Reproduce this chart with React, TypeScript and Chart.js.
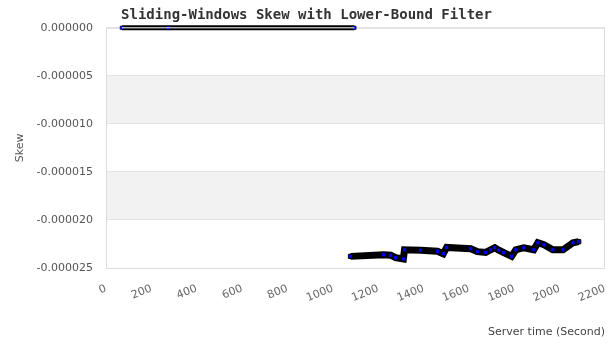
import React, { useEffect, useRef } from "react";
import { Chart, registerables } from "chart.js";

Chart.register(...registerables);

const TITLE = "Sliding-Windows Skew with Lower-Bound Filter";
const X_TITLE = "Server time (Second)";
const Y_TITLE = "Skew";

const X_MIN = 0;
const X_MAX = 2200;
const X_STEP = 200;
const Y_MIN = -0.000025;
const Y_MAX = 0;
const Y_STEP = 0.000005;

// First phase (before filter settles): skew at zero
const phase1Time = [70, 274, 1095];
const phase1Skew = [0, 0, 0];

// Second phase: skew values (seconds)
const phase2Time = [1078, 1224, 1255, 1277, 1311, 1316, 1387, 1461, 1487, 1502, 1608, 1638, 1674, 1696, 1714, 1732, 1754, 1788, 1807, 1842, 1886, 1904, 1931, 1970, 2015, 2059, 2084];
const phase2Skew = [-23.79e-6, -23.62e-6, -23.67e-6, -23.93e-6, -24.06e-6, -23.10e-6, -23.15e-6, -23.25e-6, -23.51e-6, -22.86e-6, -22.99e-6, -23.30e-6, -23.38e-6, -23.10e-6, -22.89e-6, -23.15e-6, -23.41e-6, -23.79e-6, -23.10e-6, -22.89e-6, -23.10e-6, -22.37e-6, -22.58e-6, -23.10e-6, -23.10e-6, -22.37e-6, -22.26e-6];

const toPoints = (xs: number[], ys: number[]) => xs.map((x, i) => ({ x, y: ys[i] }));

const bandPlugin = {
  id: "bands",
  beforeDraw(chart: any) {
    const { ctx, chartArea } = chart;
    const y = chart.scales.y;
    ctx.save();
    ctx.fillStyle = "#f2f2f2";
    let idx = 0;
    for (let v = Y_MAX; v > Y_MIN + 1e-12; v -= Y_STEP) {
      if (idx % 2 === 1) {
        const top = y.getPixelForValue(v);
        const bot = y.getPixelForValue(v - Y_STEP);
        ctx.fillRect(chartArea.left, top, chartArea.right - chartArea.left, bot - top);
      }
      idx++;
    }
    ctx.restore();
  },
  beforeDatasetsDraw(chart: any) {
    const { ctx, chartArea } = chart;
    ctx.save();
    ctx.strokeStyle = "#dcdcdc";
    ctx.lineWidth = 1;
    ctx.strokeRect(chartArea.left + 0.5, chartArea.top + 0.5, chartArea.right - chartArea.left - 1, chartArea.bottom - chartArea.top);
    ctx.restore();
  },
};

export default function App() {
  const ref = useRef<HTMLCanvasElement>(null);
  useEffect(() => {
    document.body.style.margin = "0";
    const canvas = ref.current!;
    const chart = new Chart(canvas, {
      type: "line",
      data: {
        datasets: [
          {
            data: toPoints(phase1Time, phase1Skew),
            borderColor: "#ffffff",
            borderWidth: 1,
            pointRadius: 0,
            tension: 0,
            clip: false as any,
          },
          {
            data: toPoints(phase1Time, phase1Skew),
            borderColor: "#000",
            borderWidth: 5,
            pointStyle: "rect",
            pointRadius: 2.5,
            pointBackgroundColor: "#0000ff",
            pointBorderColor: "#000",
            pointBorderWidth: 0.5,
            tension: 0,
            clip: false as any,
          },
          {
            data: toPoints(phase2Time, phase2Skew),
            borderColor: "#000",
            borderWidth: 7,
            pointStyle: "rect",
            pointRadius: 3,
            pointBackgroundColor: "#0000ff",
            pointBorderColor: "#000",
            pointBorderWidth: 1,
            tension: 0,
            clip: false as any,
          },
        ],
      },
      options: {
        responsive: false,
        animation: false,
        devicePixelRatio: 1,
        layout: { padding: { left: 8, right: 8, top: 0, bottom: 0 } },
        plugins: {
          legend: { display: false },
          tooltip: { enabled: false },
          title: {
            display: true,
            text: TITLE,
            color: "#333",
            font: { family: "DejaVu Sans Mono", size: 14, weight: "bold" },
            padding: { top: 7, bottom: 4 },
          },
        },
        scales: {
          x: {
            type: "linear",
            min: X_MIN,
            max: X_MAX,
            grid: { display: false, drawTicks: false },
            border: { display: false },
            ticks: {
              stepSize: X_STEP,
              autoSkip: false,
              minRotation: 22,
              maxRotation: 22,
              padding: 14,
              color: "#666",
              font: { family: "DejaVu Sans", size: 11 },
              callback: (v: any) => String(v),
            },
            title: {
              display: true,
              text: X_TITLE,
              align: "end",
              color: "#444",
              font: { family: "DejaVu Sans", size: 11 },
              padding: { top: 0, bottom: 5 },
            },
            afterFit(scale: any) {
              scale.height = 76;
              scale.paddingRight = 0;
              scale.paddingLeft = 0;
            },
          },
          y: {
            type: "linear",
            min: Y_MIN,
            max: Y_MAX,
            grid: { color: "#e4e4e4", drawTicks: false },
            border: { display: false },
            ticks: {
              stepSize: Y_STEP,
              padding: 13,
              color: "#555",
              font: { family: "DejaVu Sans", size: 11 },
              callback: (v: any) => Number(v).toFixed(6),
            },
            title: {
              display: true,
              text: Y_TITLE,
              color: "#555",
              font: { family: "DejaVu Sans", size: 11 },
              padding: { top: 6, bottom: 0 },
            },
            afterFit(scale: any) {
              scale.width = 98;
              scale.paddingTop = 0;
              scale.paddingBottom = 0;
            },
          },
        },
      },
      plugins: [bandPlugin],
    });
    return () => chart.destroy();
  }, []);
  return <canvas ref={ref} width={613} height={344} style={{ display: "block" }} />;
}
